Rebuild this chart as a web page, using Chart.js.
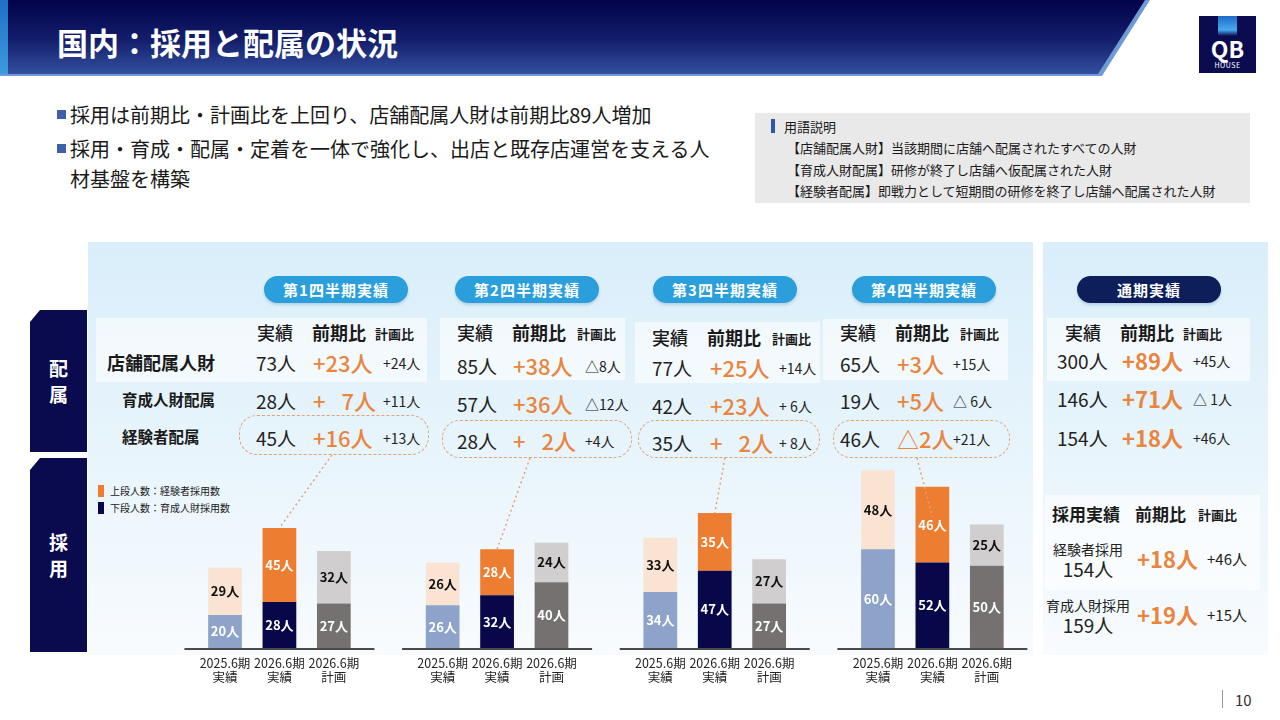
<!DOCTYPE html>
<html lang="ja">
<head>
<meta charset="utf-8">
<script src="https://cdn.jsdelivr.net/npm/chart.js@4.4.1/dist/chart.umd.min.js"></script>
<style>
  body { margin: 0; background: #fff; }
  #slide { position: relative; width: 1280px; height: 720px; overflow: hidden; font-family: "Noto Sans CJK JP", "Noto Sans", sans-serif; color: #1a1a1a; }
  .abs { position: absolute; }
  .t { position: absolute; white-space: nowrap; line-height: 1; transform: translateY(-50%); }
  .hd { font-size: 18px; font-weight: 500; }
  .hdb { font-size: 18px; font-weight: 700; }
  .hs { font-size: 13px; font-weight: 700; }
  .num { font-size: 19px; font-weight: 400; color: #222; }
  .org { font-size: 22px; font-weight: 500; color: #e8853f; }
  .orgb { font-size: 22px; font-weight: 700; color: #e8853f; }
  .sm { font-size: 14px; font-weight: 400; color: #222; }
  .pill { position: absolute; height: 27px; border-radius: 14px; color: #fff; font-size: 15px; font-weight: 700;
          display: flex; align-items: center; justify-content: center; letter-spacing: 1px; box-shadow: 0 2px 3px rgba(0,60,120,0.18); }
  .band { position: absolute; background: rgba(255,255,255,0.6); }
  .dash { position: absolute; border: 1.5px dashed #e3a178; border-radius: 18px; box-sizing: border-box; }
  .side { position: absolute; left: 30px; width: 57px; background: #0a0a4e; color: #fff; font-weight: 700; font-size: 19px;
          clip-path: polygon(10px 0, 100% 0, 100% 100%, 0 100%, 0 12px); display: flex; flex-direction: column; align-items: center; justify-content: center; line-height: 1.35; }
  #recruitChart { position: absolute; left: 150px; top: 450px; }
</style>
</head>
<body>
<div id="slide">
  <!-- header -->
  <div class="abs" style="left:0;top:0;width:1160px;height:76px;background:#6e9ad6;clip-path:polygon(0 0,1150px 0,1102px 76px,0 76px);"></div>
  <div class="abs" style="left:0;top:0;width:1160px;height:74px;background:linear-gradient(180deg,#02024a 0%,#141f6c 55%,#33509f 100%);clip-path:polygon(0 0,1145px 0,1098px 74px,0 74px);"></div>
  <div class="abs" style="left:0;top:0;width:8px;height:74px;background:linear-gradient(180deg,#1f6fc4,#3c9be0);"></div>
  <div class="t" style="left:57px;top:41px;font-size:31px;font-weight:700;color:#fff;">国内：採用と配属の状況</div>

  <!-- logo -->
  <div class="abs" style="left:1199px;top:16px;width:57px;height:57px;background:#0b0b50;">
    <div class="abs" style="left:19px;top:0;width:19px;height:20px;background:linear-gradient(180deg,#1f6cc8,#49a8ee 70%,#0b0b50);"></div>
    <div class="abs" style="left:0;top:21px;width:57px;text-align:center;color:#fff;font-size:23px;font-weight:700;line-height:1;">QB</div>
    <div class="abs" style="left:0;top:46px;width:57px;text-align:center;color:#fff;font-size:7px;line-height:1;letter-spacing:0.5px;">HOUSE</div>
  </div>

  <!-- bullets -->
  <div class="abs" style="left:57px;top:110px;width:9px;height:9px;background:#3f5fa8;"></div>
  <div class="abs" style="left:57px;top:144px;width:9px;height:9px;background:#3f5fa8;"></div>
  <div class="t" style="left:70px;top:115px;font-size:20px;">採用は前期比・計画比を上回り、店舗配属人財は前期比89人増加</div>
  <div class="t" style="left:70px;top:149px;font-size:20px;">採用・育成・配属・定着を一体で強化し、出店と既存店運営を支える人</div>
  <div class="t" style="left:70px;top:179px;font-size:20px;">材基盤を構築</div>

  <!-- glossary -->
  <div class="abs" style="left:755px;top:113px;width:495px;height:90px;background:#e9e9e9;"></div>
  <div class="abs" style="left:771px;top:119px;width:4px;height:14px;background:#2f55a8;"></div>
  <div class="t" style="left:784px;top:126px;font-size:13px;">用語説明</div>
  <div class="t" style="left:787px;top:147px;font-size:13px;">【店舗配属人財】当該期間に店舗へ配属されたすべての人財</div>
  <div class="t" style="left:787px;top:169px;font-size:13px;">【育成人財配属】研修が終了し店舗へ仮配属された人財</div>
  <div class="t" style="left:787px;top:190px;font-size:13px;">【経験者配属】即戦力として短期間の研修を終了し店舗へ配属された人財</div>

  <!-- panels -->
  <div class="abs" style="left:88px;top:242px;width:945px;height:413px;background:linear-gradient(180deg,#d9eefa 0%,#e9f5fc 55%,#f8fbfe 100%);"></div>
  <div class="abs" style="left:1043px;top:242px;width:225px;height:413px;background:linear-gradient(180deg,#d9eefa 0%,#e9f5fc 55%,#f8fbfe 100%);"></div>
  <div class="side" style="top:310px;height:142px;">配<br>属</div>
  <div class="side" style="top:458px;height:194px;">採<br>用</div>

  <div id="tables"></div>

  <!-- chart legend -->
  <div class="abs" style="left:98px;top:485px;width:6px;height:12px;background:#ed7d31;"></div>
  <div class="t" style="left:110px;top:491px;font-size:10px;">上段人数：経験者採用数</div>
  <div class="abs" style="left:98px;top:502px;width:6px;height:12px;background:#07074a;"></div>
  <div class="t" style="left:110px;top:508px;font-size:10px;">下段人数：育成人財採用数</div>

  <canvas id="recruitChart" width="890" height="245"></canvas>

  <!-- page number -->
  <div class="abs" style="left:1222px;top:690px;width:1px;height:18px;background:#999;"></div>
  <div class="t" style="left:1235px;top:699px;font-size:15px;color:#333;">10</div>
</div>

<script>
// ---- data ----
var quarterTitles = ['第1四半期実績', '第2四半期実績', '第3四半期実績', '第4四半期実績', '通期実績'];
var periodLabels = [['2025.6期', '実績'], ['2026.6期', '実績'], ['2026.6期', '計画']];

// 採用 (per quarter: 2025.6期実績, 2026.6期実績, 2026.6期計画)
var trainedHires = [20, 28, 27, 26, 32, 40, 34, 47, 27, 60, 52, 50];      // 下段人数：育成人財採用数
var experiencedHires = [29, 45, 32, 26, 28, 24, 33, 35, 27, 48, 46, 25];  // 上段人数：経験者採用数

// 配属 (Q1, Q2, Q3, Q4, 通期)
var rowNames = ['店舗配属人財', '育成人財配属', '経験者配属'];
var storeStaff = ['73人', '85人', '77人', '65人', '300人'];
var storeVsPrev = ['+23人', '+38人', '+25人', '+3人', '+89人'];
var storeVsPlan = ['+24人', '△8人', '+14人', '+15人', '+45人'];
var trainedStaff = ['28人', '57人', '42人', '19人', '146人'];
var trainedVsPrev = ['+\u2002 7人', '+36人', '+23人', '+5人', '+71人'];
var trainedVsPlan = ['+11人', '△12人', '+ 6人', '△ 6人', '△ 1人'];
var expStaff = ['45人', '28人', '35人', '46人', '154人'];
var expVsPrev = ['+16人', '+\u2002 2人', '+\u2002 2人', '△2人', '+18人'];
var expVsPlan = ['+13人', '+4人', '+ 8人', '+21人', '+46人'];

// 採用実績 summary
var recruitNames = ['経験者採用', '育成人財採用'];
var recruitTotals = ['154人', '159人'];
var recruitVsPrev = ['+18人', '+19人'];
var recruitVsPlan = ['+46人', '+15人'];

// ---- layout ----
var pillX = [264, 455, 653, 852, 1077];
var headX = [[257, 312, 375], [457, 512, 577], [652, 707, 772], [840, 895, 960], [1065, 1120, 1183]];
var colX = [[256, 313, 383], [457, 513, 585], [652, 710, 779], [840, 897, 953], [1057, 1122, 1193]];
var rowY = [[332, 362, 400, 437], [332, 365, 403, 440], [337, 367, 405, 442], [332, 363, 400, 438], [332, 360, 398, 437]];
var bands = [[96, 318, 331, 64], [440, 318, 185, 62], [635, 322, 185, 61], [823, 319, 185, 61], [1047, 318, 203, 63], [1045, 495, 215, 95]];
var dashBoxes = [[239, 415, 190, 40], [442, 420, 190, 38], [638, 420, 182, 38], [833, 420, 177, 38]];
var connectorStarts = [[332, 455], [530, 458], [725, 458], [917, 458]];
var connectorDip = [0, 0, 0, 30];
var canvasLeft = 150, canvasTop = 450;

var html = '';
function put(text, x, y, cls, extra) {
  html += '<div class="t ' + cls + '" style="left:' + x + 'px;top:' + y + 'px;' + (extra || '') + '">' + text + '</div>';
}
bands.forEach(function (b) {
  html += '<div class="band" style="left:' + b[0] + 'px;top:' + b[1] + 'px;width:' + b[2] + 'px;height:' + b[3] + 'px;"></div>';
});
dashBoxes.forEach(function (b) {
  html += '<div class="dash" style="left:' + b[0] + 'px;top:' + b[1] + 'px;width:' + b[2] + 'px;height:' + b[3] + 'px;"></div>';
});
quarterTitles.forEach(function (title, i) {
  html += '<div class="pill" style="left:' + pillX[i] + 'px;top:276px;width:144px;background:' + (i < 4 ? '#2a9fdc' : '#0c1f5a') + ';">' + title + '</div>';
});
put(rowNames[0], 107, 362, 'hdb');
put(rowNames[1], 122, 400, 'hs', 'font-size:15.5px;');
put(rowNames[2], 122, 437, 'hs', 'font-size:15.5px;');

for (var c = 0; c < 5; c++) {
  var x = colX[c], y = rowY[c], h = headX[c];
  var big = c === 4 ? 'orgb' : 'org';
  put('実績', h[0], y[0], 'hd');
  put('前期比', h[1], y[0], 'hdb');
  put('計画比', h[2], y[0] + 1, 'hs');
  put(storeStaff[c], x[0], y[1], 'num');
  put(storeVsPrev[c], x[1], y[1], big);
  put(storeVsPlan[c], x[2], y[1] + 1, 'sm');
  put(trainedStaff[c], x[0], y[2], 'num');
  put(trainedVsPrev[c], x[1], y[2], big);
  put(trainedVsPlan[c], x[2], y[2] + 1, 'sm');
  put(expStaff[c], x[0], y[3], 'num');
  put(expVsPrev[c], x[1], y[3], big);
  put(expVsPlan[c], x[2], y[3] + 1, 'sm');
}

put('採用実績', 1052, 513, 'hdb', 'font-size:17px;');
put('前期比', 1135, 513, 'hdb', 'font-size:17px;');
put('計画比', 1198, 514, 'hs');
for (var r = 0; r < 2; r++) {
  var yy = r === 0 ? 549 : 605;
  put(recruitNames[r], 1088, yy, 'num', 'font-size:14px;transform:translate(-50%,-50%);');
  put(recruitTotals[r], 1088, yy + 19, 'num', 'transform:translate(-50%,-50%);');
  put(recruitVsPrev[r], 1137, yy + 9, 'orgb');
  put(recruitVsPlan[r], 1207, yy + 9, 'sm', 'font-size:15px;');
}
document.getElementById('tables').innerHTML = html;

// ---- chart ----
var bottomPalette = ['#8da3c9', '#07074a', '#767171'];
var topPalette = ['#fbe3d4', '#ed7d31', '#d0cece'];
var bottomText = ['#ffffff', '#ffffff', '#ffffff'];
var topText = ['#111111', '#ffffff', '#111111'];

var labels = [], bottomData = [], topData = [];
var bottomColors = [], topColors = [], bottomLabelColors = [], topLabelColors = [];
for (var q = 0; q < 4; q++) {
  for (var p = 0; p < 3; p++) {
    var i = q * 3 + p;
    labels.push(periodLabels[p]);
    bottomData.push(trainedHires[i]);
    topData.push(experiencedHires[i]);
    bottomColors.push(bottomPalette[p]);
    topColors.push(topPalette[p]);
    bottomLabelColors.push(bottomText[p]);
    topLabelColors.push(topText[p]);
  }
  if (q < 3) {
    labels.push('');
    bottomData.push(null);
    topData.push(null);
    bottomColors.push('rgba(0,0,0,0)');
    topColors.push('rgba(0,0,0,0)');
    bottomLabelColors.push('#000');
    topLabelColors.push('#000');
  }
}

var barExtras = {
  id: 'barExtras',
  beforeDatasetsDraw: function (chart) {
    var ctx = chart.ctx, xs = chart.scales.x, ys = chart.scales.y;
    var y0 = ys.getPixelForValue(0) + 1;
    ctx.save();
    ctx.strokeStyle = '#4a4a4a';
    ctx.lineWidth = 2;
    for (var q = 0; q < 4; q++) {
      var c = xs.getPixelForValue(q * 4 + 1);
      ctx.beginPath();
      ctx.moveTo(c - 95, y0);
      ctx.lineTo(c + 95, y0);
      ctx.stroke();
    }
    ctx.restore();
  },
  afterDatasetsDraw: function (chart) {
    var ctx = chart.ctx;
    var topMeta = chart.getDatasetMeta(1);
    ctx.save();
    ctx.setLineDash([2, 3]);
    ctx.strokeStyle = '#e6a07a';
    ctx.lineWidth = 1.5;
    for (var q = 0; q < 4; q++) {
      var el = topMeta.data[q * 4 + 1];
      var s = connectorStarts[q];
      ctx.beginPath();
      ctx.moveTo(s[0] - canvasLeft, s[1] - canvasTop);
      ctx.lineTo(el.x, el.y + connectorDip[q]);
      ctx.stroke();
    }
    ctx.restore();

    ctx.save();
    ctx.font = 'bold 13px "Noto Sans CJK JP"';
    ctx.textAlign = 'center';
    ctx.textBaseline = 'middle';
    [0, 1].forEach(function (d) {
      var meta = chart.getDatasetMeta(d);
      var ds = chart.data.datasets[d];
      meta.data.forEach(function (el, i) {
        var v = ds.data[i];
        if (v === null) return;
        ctx.fillStyle = ds.labelColors[i];
        ctx.fillText(v + '人', el.x, (el.y + el.base) / 2);
      });
    });
    ctx.restore();
  }
};

new Chart(document.getElementById('recruitChart'), {
  type: 'bar',
  data: {
    labels: labels,
    datasets: [
      { label: '下段人数：育成人財採用数', data: bottomData, backgroundColor: bottomColors, labelColors: bottomLabelColors },
      { label: '上段人数：経験者採用数', data: topData, backgroundColor: topColors, labelColors: topLabelColors }
    ]
  },
  options: {
    responsive: false,
    animation: false,
    devicePixelRatio: 1,
    layout: { padding: { left: 47.8, right: 26, top: 8.8, bottom: 7 } },
    datasets: { bar: { barPercentage: 0.62, categoryPercentage: 1 } },
    plugins: { legend: { display: false }, tooltip: { enabled: false } },
    scales: {
      x: {
        stacked: true,
        grid: { display: false },
        border: { display: false },
        afterFit: function (s) { s.height = 40; },
        ticks: {
          autoSkip: false, maxRotation: 0, minRotation: 0, padding: 0,
          color: '#222',
          font: { family: '"Noto Sans CJK JP"', size: 12.5, lineHeight: 1.12 }
        }
      },
      y: { stacked: true, display: false, min: 0, max: 115 }
    }
  },
  plugins: [barExtras]
});
</script>
</body>
</html>
